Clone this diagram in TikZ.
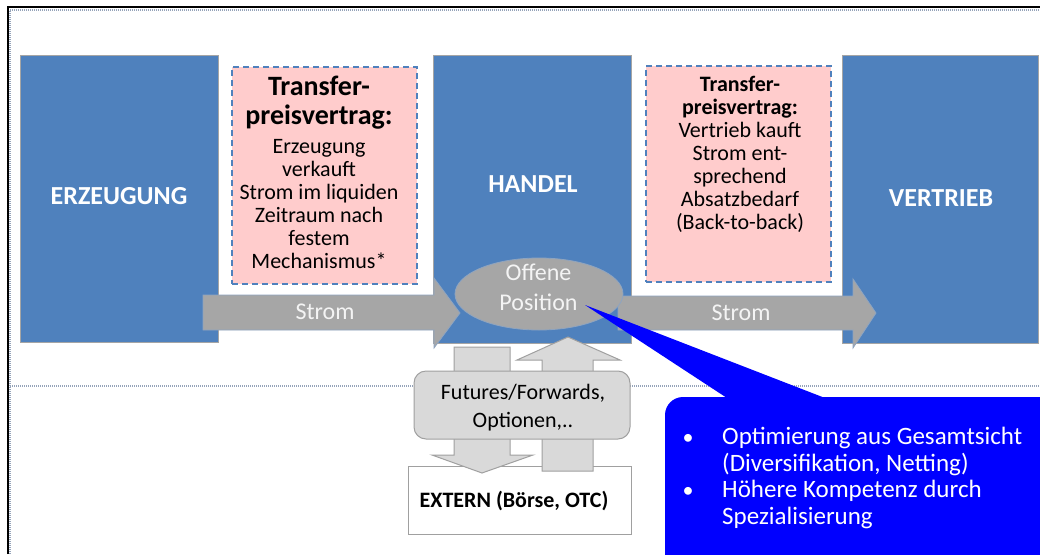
\documentclass[tikz,border=0pt]{standalone}
\usepackage{fontspec}
\setmainfont{Carlito}
\usetikzlibrary{shapes.geometric}
\definecolor{boxblue}{HTML}{4F81BD}
\definecolor{boxedge}{HTML}{A5A5A5}
\definecolor{pinkfill}{HTML}{FFCCCC}
\definecolor{arrowgray}{HTML}{A6A6A6}
\definecolor{arrowedge}{HTML}{8EA4C0}
\definecolor{lightgrayfill}{HTML}{D9D9D9}
\definecolor{midgray}{HTML}{A0A0A0}
\definecolor{callblue}{HTML}{0000FF}
\definecolor{dotcol}{HTML}{95A3B9}
\definecolor{stromtext}{HTML}{F4F4F4}
\tikzset{
  unitbox/.style={draw=boxedge, line width=1pt, fill=boxblue, inner sep=0pt, anchor=north west},
  unitlabel/.style={text=white, font=\bfseries\fontsize{26}{28}\selectfont},
  contract/.style={draw=boxblue, fill=pinkfill, dash pattern=on 6pt off 4pt, line width=1.5pt, inner sep=0pt, anchor=north west},
  flowarrow/.style={fill=arrowgray, draw=arrowedge, line width=0.8pt},
  flowlabel/.style={text=stromtext, font=\fontsize{24}{26}\selectfont},
  tradearrow/.style={fill=lightgrayfill, draw=midgray, line width=1pt},
  plain/.style={text=black, font=\fontsize{22}{23}\selectfont, align=center},
  placeholder/.style={draw=dotcol, line width=1.6pt, dash pattern=on 1pt off 1pt}
}
\begin{document}
\begin{tikzpicture}[x=1pt,y=-1pt]
\useasboundingbox (0,0) rectangle (1040,554);
\fill[white] (0,0) rectangle (1040,554);
% frame
\draw[placeholder] (10,554) -- (10,10) -- (1040,10);
\draw[placeholder] (10,386) -- (1040,386);
\draw[black, line width=2pt] (8,554) -- (8,7) -- (1040,7);

% units
\node[unitbox, minimum width=198pt, minimum height=287pt] (erz) at (20,55) {};
\node[unitbox, minimum width=198pt, minimum height=288pt] (han) at (433,55) {};
\node[unitbox, minimum width=196pt, minimum height=288pt] (ver) at (842,55) {};
\node[unitlabel] (erzl) at (119,196) {ERZEUGUNG};
\node[unitlabel] (hanl) at (533,184) {HANDEL};
\node[unitlabel] (verl) at (941,198) {VERTRIEB};

% contracts
\node[contract, minimum width=185pt, minimum height=217pt] (c1) at (231,66) {};
\node[contract, minimum width=185pt, minimum height=216pt] (c2) at (645,65) {};
\node[plain, font=\bfseries\fontsize{28}{29}\selectfont] (c1t) at (319,103) {Transfer-\\preisvertrag:};
\node[plain] (c1b) at (319,204) {Erzeugung\\verkauft\\Strom im liquiden\\Zeitraum nach\\festem\\Mechanismus*};
\node[plain] (c2b) at (740,154) {\textbf{Transfer-}\\\textbf{preisvertrag:}\\Vertrieb kauft\\Strom ent-\\sprechend\\Absatzbedarf\\(Back-to-back)};

% Strom arrows
\draw[flowarrow] (203,295) -- (434,295) -- (434,278) -- (460,313) -- (434,348) -- (434,330) -- (203,330) -- cycle;
\draw[flowarrow] (618,296) -- (853,296) -- (853,279) -- (876,313) -- (853,348) -- (853,330) -- (618,330) -- cycle;
\node[flowlabel] (s1) at (325,312) {Strom};
\node[flowlabel] (s2) at (741,313) {Strom};

% open position
\node[ellipse, fill=arrowgray, draw=arrowedge, line width=0.8pt, minimum width=168pt, minimum height=72pt, inner sep=0pt] (pos) at (539,294) {};
\node[flowlabel, align=center, font=\fontsize{24}{30}\selectfont] (posl) at (538.5,287) {Offene\\Position};

% extern
\node[draw=midgray, line width=1pt, fill=white, anchor=north west, minimum width=223pt, minimum height=68pt, inner sep=0pt] (ext) at (408,466) {};
\node[text=black, font=\bfseries\fontsize{22}{24}\selectfont] (extl) at (514,501) {EXTERN (Börse, OTC)};

% trade arrows
\draw[tradearrow] (454,347) -- (510,347) -- (510,455) -- (533,455) -- (482,473) -- (432,455) -- (454,455) -- cycle;
\draw[tradearrow] (542,471) -- (542,360) -- (517,360) -- (568,337) -- (620,360) -- (593,360) -- (593,471) -- cycle;
\node[draw=midgray, line width=1pt, fill=lightgrayfill, rounded corners=12pt, minimum width=216pt, minimum height=68pt, inner sep=0pt] (fut) at (522,405) {};
\node[plain, font=\fontsize{22}{28}\selectfont] (futl) at (523,408) {Futures/Forwards,\\Optionen,..};

% callout
\coordinate (tip) at (585,305);
\fill[callblue] (727,398) -- (tip) -- (825,398) -- cycle;
\fill[callblue, rounded corners=18pt] (665,397) rectangle (1070,580);
\node[text=white, font=\fontsize{25}{26.5}\selectfont, align=left, anchor=north west, inner sep=0pt] (callt) at (722,427) {Optimierung aus Gesamtsicht\\(Diversifikation, Netting)\\Höhere Kompetenz durch\\Spezialisierung};
\node[text=white, font=\fontsize{22}{24}\selectfont] (b1) at (688,439) {•};
\node[text=white, font=\fontsize{22}{24}\selectfont] (b2) at (688,492) {•};
\end{tikzpicture}
\end{document}
